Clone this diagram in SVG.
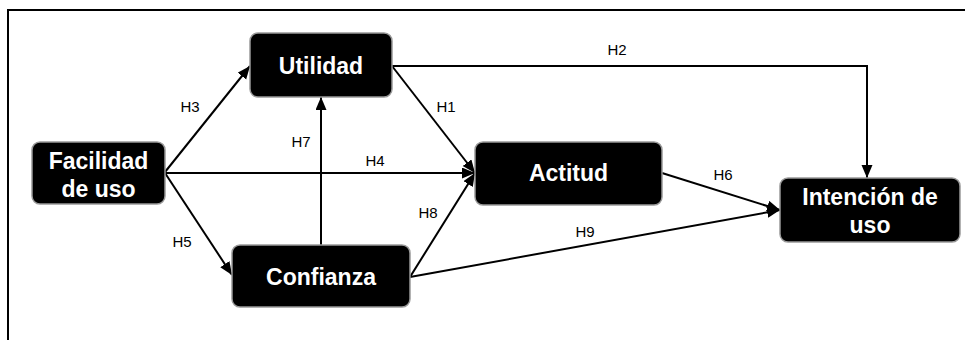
<svg xmlns="http://www.w3.org/2000/svg" width="965" height="340" viewBox="0 0 965 340">
<style>
.node rect{fill:#000;stroke:#999;stroke-width:1.5}
.node text{fill:#fff;font-family:"Liberation Sans",Arial,sans-serif;font-weight:bold;font-size:23px;text-anchor:middle}
.edge{stroke:#000;stroke-width:2;fill:none;marker-end:url(#ah)}
.lbl{font-family:"Liberation Sans",Arial,sans-serif;font-size:15px;fill:#000;text-anchor:middle}
</style>
<defs>
<marker id="ah" markerUnits="userSpaceOnUse" markerWidth="14" markerHeight="12" refX="13" refY="5.5" orient="auto">
<path d="M0,0 L13,5.5 L0,11 z" fill="#000"/>
</marker>
</defs>
<rect width="965" height="340" fill="#fff"/>
<path d="M8,340 L8,10 L965,10" stroke="#000" stroke-width="2" fill="none"/>
<g id="connectors">
<path class="edge" d="M165,172 L250,66"/>
<path class="edge" d="M165,173 L475,173"/>
<path class="edge" d="M165,173 L232,275"/>
<path class="edge" d="M321,245 L321,97"/>
<path class="edge" d="M392,66 L475,173"/>
<path class="edge" d="M410,277 L475,173"/>
<path class="edge" d="M410,277 L780,210"/>
<path class="edge" d="M662,173 L780,210"/>
<path class="edge" d="M392,66 L867,66 L867,178"/>
<text class="lbl" x="190" y="112">H3</text>
<text class="lbl" x="446" y="112">H1</text>
<text class="lbl" x="301" y="147">H7</text>
<text class="lbl" x="375" y="166">H4</text>
<text class="lbl" x="617" y="55">H2</text>
<text class="lbl" x="182" y="247">H5</text>
<text class="lbl" x="428" y="218">H8</text>
<text class="lbl" x="723" y="180">H6</text>
<text class="lbl" x="585" y="237">H9</text>
</g>
<g id="utilidad" class="node">
<rect x="250" y="33" width="142" height="64" rx="8"/>
<text x="321" y="74">Utilidad</text>
</g>
<g id="facilidad" class="node">
<rect x="32" y="142" width="133" height="62" rx="8"/>
<text x="98.5" y="169">Facilidad</text>
<text x="98.5" y="197">de uso</text>
</g>
<g id="confianza" class="node">
<rect x="232" y="245" width="178" height="62" rx="8"/>
<text x="321" y="285">Confianza</text>
</g>
<g id="actitud" class="node">
<rect x="475" y="142" width="187" height="63" rx="8"/>
<text x="568.5" y="181">Actitud</text>
</g>
<g id="intencion" class="node">
<rect x="780" y="178" width="180" height="64" rx="8"/>
<text x="870" y="205">Intención de</text>
<text x="870" y="233">uso</text>
</g>
</svg>
